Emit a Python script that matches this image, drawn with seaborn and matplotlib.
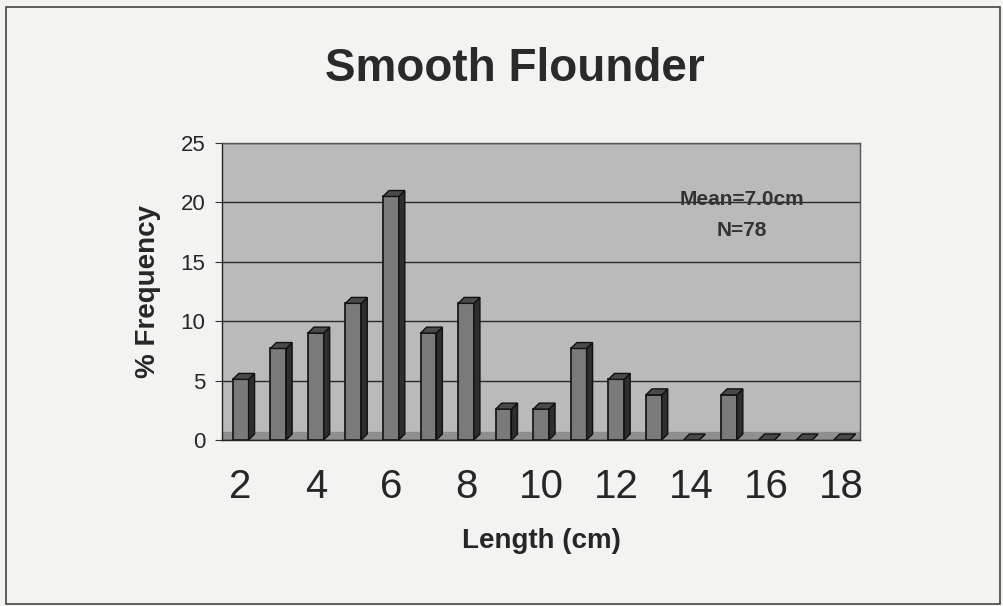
import numpy as np
import pandas as pd
import matplotlib
matplotlib.use("Agg")
import matplotlib.pyplot as plt
from matplotlib.patches import Polygon
import seaborn as sns

# length classes (cm) and % frequency (N=78)
lengths = list(range(2, 19))
counts = [4, 6, 7, 9, 16, 7, 9, 2, 2, 6, 4, 3, 0, 3, 0, 0, 0]
n_fish = 78
pct = [round(c / n_fish * 100, 1) for c in counts]
tick_labels = [str(v) if v % 2 == 0 else "" for v in lengths]

df = pd.DataFrame({"length": [str(v) for v in lengths], "pct": pct})

sns.set_style("white")
plt.rcParams['font.family'] = ['Liberation Sans', 'DejaVu Sans']

fig = plt.figure(figsize=(10.04, 6.06), dpi=100)
fig.patch.set_facecolor("#f3f3f1")
ax = fig.add_axes([0.221, 0.274, 0.636, 0.49])
ax.set_facecolor("#bababa")

sns.barplot(data=df, x="length", y="pct", order=df["length"], color="#7a7a7a",
            width=0.42, edgecolor="#1a1a1a", linewidth=1.3, saturation=1, ax=ax)

# fake 3d depth on each bar (right side + top)
dx, dy = 0.16, 0.5
for p in list(ax.patches):
    x0, w, h = p.get_x(), p.get_width(), p.get_height()
    side = Polygon([(x0 + w, 0), (x0 + w + dx, dy), (x0 + w + dx, h + dy), (x0 + w, h)],
                   closed=True, facecolor="#2e2e2e", edgecolor="#111111", linewidth=1, zorder=p.get_zorder())
    top = Polygon([(x0, h), (x0 + dx, h + dy), (x0 + w + dx, h + dy), (x0 + w, h)],
                  closed=True, facecolor="#4a4a4a", edgecolor="#111111", linewidth=1, zorder=p.get_zorder())
    ax.add_patch(side)
    ax.add_patch(top)

# floor strip
ax.axhspan(0, 0.7, color="#8f8f8f", zorder=0.5)

ax.set_ylim(0, 25)
ax.set_xlim(-0.5, len(lengths) - 0.5)
ax.set_yticks([0, 5, 10, 15, 20, 25])
ax.yaxis.grid(True, color="#2a2a2a", linewidth=1)
ax.set_axisbelow(True)
ax.set_xticks(np.arange(len(lengths)))
ax.set_xticklabels(tick_labels, fontsize=29)
ax.set_xticks(np.arange(-0.5, len(lengths)), minor=True)
ax.tick_params(axis="x", which="major", length=0, pad=20)
ax.tick_params(axis="x", which="minor", length=6, color="#333333")
ax.tick_params(axis="y", length=5, labelsize=16, color="#333333", left=True, pad=7)
for s in ax.spines.values():
    s.set_color("#555555")
    s.set_linewidth(1)
ax.spines["left"].set_color("#222222")
ax.spines["bottom"].set_color("#222222")

ax.set_xlabel("Length (cm)", fontsize=20, fontweight="bold", labelpad=16)
ax.set_ylabel("% Frequency", fontsize=20, fontweight="bold", labelpad=14)
fig.suptitle("Smooth Flounder", fontsize=33, fontweight="bold", x=0.513, y=0.922, color="#2a2a2a")

ax.text(0.815, 0.757, "Mean=7.0cm\nN=78", transform=ax.transAxes, ha="center", va="center",
        fontsize=15, fontweight="bold", color="#333333", linespacing=1.8)

# chart border
fig.patches.append(plt.Rectangle((0.006, 0.003), 0.99, 0.985, transform=fig.transFigure,
                                 fill=False, edgecolor="#444444", linewidth=1.2))

fig.savefig("out.png", dpi=100, facecolor=fig.get_facecolor())
